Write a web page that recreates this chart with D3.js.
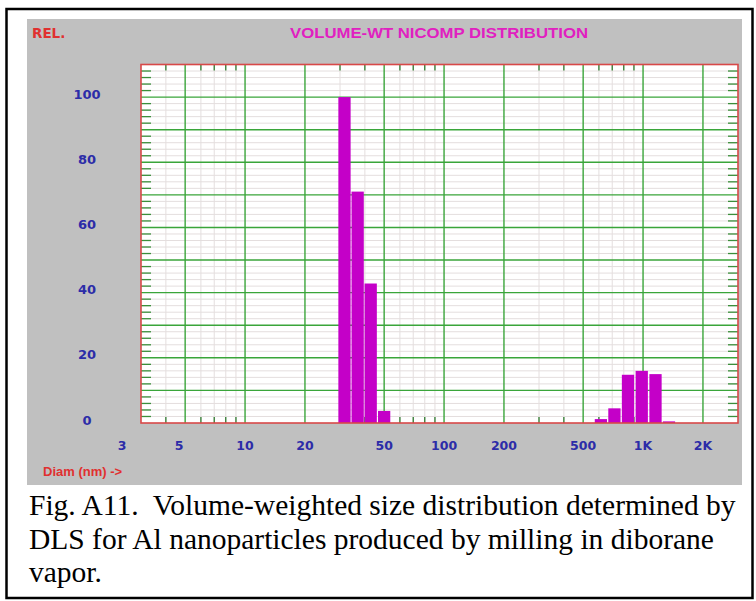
<!DOCTYPE html>
<html><head><meta charset="utf-8">
<script src="https://cdn.jsdelivr.net/npm/d3@7"></script>
<style>body{margin:0;background:#fff}svg{display:block}</style>
</head><body>
<svg id="c" width="756" height="601"></svg>
<script>
// ---- data ----
const binDiameters = [31.6, 36.8, 42.8, 50.0, 614, 718, 840, 985, 1155, 1350];
const binValues    = [100, 71, 42.8, 3.7, 1.2, 4.5, 14.8, 16.0, 15.0, 0.5];
const binRatio = 1.1686;
const xMajorTicks = [3, 5, 10, 20, 50, 100, 200, 500, 1000, 2000];
const xTickLabels = ["3", "5", "10", "20", "50", "100", "200", "500", "1K", "2K"];
const xMinorTicks = [4, 6, 7, 8, 9, 30, 40, 60, 70, 80, 90, 300, 400, 600, 700, 800, 900];
const yMajorTicks = [0, 20, 40, 60, 80, 100];
const titleText = "VOLUME-WT NICOMP DISTRIBUTION";
const yAxisTitle = "REL.";
const xAxisTitle = "Diam (nm) ->";
const captionLines = [
  "Fig. A11.  Volume-weighted size distribution determined by",
  "DLS for Al nanoparticles produced by milling in diborane",
  "vapor."
];

// ---- drawing ----
const svg = d3.select("#c");
const x = d3.scaleLog().domain([3, 3000]).range([141, 738]);
const y = d3.scaleLinear().domain([0, 110]).range([423, 64.5]);

// outer black frame
svg.append("rect").attr("x", 6.5).attr("y", 9).attr("width", 746).attr("height", 589)
  .attr("fill", "none").attr("stroke", "#000").attr("stroke-width", 2.5);

// gray panel
svg.append("rect").attr("x", 27).attr("y", 19).attr("width", 715).attr("height", 466).attr("fill", "#c0c0c0");

// plot area
svg.append("rect").attr("x", x.range()[0]).attr("y", y.range()[1])
  .attr("width", x.range()[1] - x.range()[0]).attr("height", y.range()[0] - y.range()[1])
  .attr("fill", "#fff");

const g = svg.append("g");
// minor horizontal grid every 2 units
const yMinor = d3.range(2, 110, 2).filter(v => v % 10 !== 0);
g.selectAll(".hm").data(yMinor).join("line")
  .attr("x1", x.range()[0]).attr("x2", x.range()[1])
  .attr("y1", d => y(d)).attr("y2", d => y(d))
  .attr("stroke", "#e4dede").attr("stroke-width", 1);
// minor vertical grid
g.selectAll(".vm").data(xMinorTicks).join("line")
  .attr("x1", d => x(d)).attr("x2", d => x(d))
  .attr("y1", y.range()[1]).attr("y2", y.range()[0])
  .attr("stroke", "#e4dede").attr("stroke-width", 1);
// major horizontal grid every 10
g.selectAll(".hM").data(d3.range(10, 110, 10)).join("line")
  .attr("x1", x.range()[0]).attr("x2", x.range()[1])
  .attr("y1", d => y(d)).attr("y2", d => y(d))
  .attr("stroke", "#3aa53a").attr("stroke-width", 1.4);
// major vertical grid
g.selectAll(".vM").data(xMajorTicks.slice(1)).join("line")
  .attr("x1", d => x(d)).attr("x2", d => x(d))
  .attr("y1", y.range()[1]).attr("y2", y.range()[0])
  .attr("stroke", "#3aa53a").attr("stroke-width", 1.4);
// minor tick marks top/bottom
g.selectAll(".tt").data(xMinorTicks).join("line")
  .attr("x1", d => x(d)).attr("x2", d => x(d))
  .attr("y1", y.range()[1]).attr("y2", y.range()[1] + 6)
  .attr("stroke", "#2f7a2f").attr("stroke-width", 1.3);
g.selectAll(".tb").data(xMinorTicks).join("line")
  .attr("x1", d => x(d)).attr("x2", d => x(d))
  .attr("y1", y.range()[0]).attr("y2", y.range()[0] - 6)
  .attr("stroke", "#2f7a2f").attr("stroke-width", 1.3);
// minor tick marks left/right
g.selectAll(".tl").data(yMinor).join("line")
  .attr("x1", x.range()[0]).attr("x2", x.range()[0] + 10)
  .attr("y1", d => y(d)).attr("y2", d => y(d))
  .attr("stroke", "#3a8f3a").attr("stroke-width", 1.3);
g.selectAll(".tr").data(yMinor).join("line")
  .attr("x1", x.range()[1]).attr("x2", x.range()[1] - 10)
  .attr("y1", d => y(d)).attr("y2", d => y(d))
  .attr("stroke", "#3a8f3a").attr("stroke-width", 1.3);

// bars
const half = Math.sqrt(binRatio);
g.selectAll(".bar").data(binDiameters.map((d, i) => ({d, v: binValues[i]}))).join("rect")
  .attr("x", b => x(b.d / half) + 0.6)
  .attr("width", b => x(b.d * half) - x(b.d / half) - 1.2)
  .attr("y", b => y(b.v))
  .attr("height", b => y(0) - y(b.v))
  .attr("fill", "#c400c8");

// plot border
svg.append("rect").attr("x", x.range()[0]).attr("y", y.range()[1])
  .attr("width", x.range()[1] - x.range()[0]).attr("height", y.range()[0] - y.range()[1])
  .attr("fill", "none").attr("stroke", "#d84848").attr("stroke-width", 1.6);

// y labels
svg.selectAll(".yl").data(yMajorTicks).join("text")
  .attr("x", 87).attr("y", d => y(d) - 3).attr("dy", "0.36em")
  .attr("text-anchor", "middle")
  .attr("font-family", "DejaVu Sans").attr("font-weight", "bold").attr("font-size", 13)
  .attr("fill", "#2c2ca8").text(d => d);

// x labels
svg.selectAll(".xl").data(xMajorTicks).join("text")
  .attr("x", (d, i) => x(d) + (i === 0 ? -19 : (i === 1 ? -6 : 0)))
  .attr("y", 445).attr("dy", "0.36em")
  .attr("text-anchor", "middle")
  .attr("font-family", "DejaVu Sans").attr("font-weight", "bold").attr("font-size", 12.5)
  .attr("fill", "#2c2ca8").text((d, i) => xTickLabels[i]);

// titles
svg.append("text").attr("x", 32).attr("y", 33).attr("dy", "0.36em")
  .attr("font-family", "DejaVu Sans").attr("font-weight", "bold").attr("font-size", 13.5)
  .attr("fill", "#e03030").text(yAxisTitle);
svg.append("text").attr("x", 290).attr("y", 33).attr("dy", "0.36em")
  .attr("font-family", "Liberation Sans").attr("font-weight", "bold").attr("font-size", 15)
  .attr("textLength", 298).attr("lengthAdjust", "spacingAndGlyphs")
  .attr("fill", "#e020c0").text(titleText);
svg.append("text").attr("x", 43).attr("y", 471).attr("dy", "0.36em")
  .attr("font-family", "Liberation Sans").attr("font-weight", "bold").attr("font-size", 13)
  .attr("fill", "#e03030").text(xAxisTitle);

// caption
svg.selectAll(".cap").data(captionLines).join("text")
  .attr("x", 29).attr("y", (d, i) => 515 + i * 33.5)
  .attr("font-family", "Liberation Serif").attr("font-size", 29.5)
  .attr("fill", "#000").attr("xml:space", "preserve").style("white-space", "pre")
  .text(d => d);
</script>
</body></html>
